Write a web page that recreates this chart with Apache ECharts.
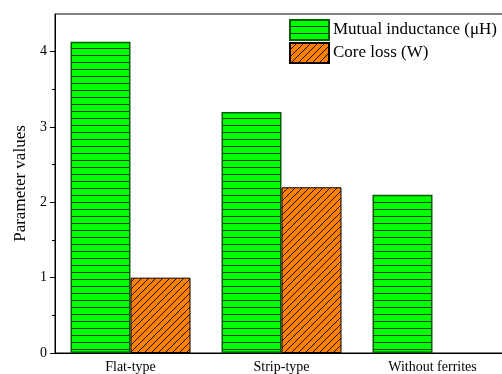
<!DOCTYPE html>
<html>
<head>
<meta charset="utf-8">
<script src="https://cdn.jsdelivr.net/npm/echarts@6/dist/echarts.min.js"></script>
<style>
  html, body { margin: 0; padding: 0; background: #fff; }
  #chart { width: 502px; height: 374px; }
</style>
</head>
<body>
<div id="chart"></div>
<script>
// Categories and values
const categories = ['Flat-type', 'Strip-type', 'Without ferrites'];
const mutualInductance = [4.13, 3.2, 2.1];
const coreLoss = [1.0, 2.2, null];
const yMajorTicks = [0, 1, 2, 3, 4];
const yMinorTicks = [0.5, 1.5, 2.5, 3.5];

// Horizontal-stripe fill for the inductance bars
function stripePattern() {
  const c = document.createElement('canvas');
  c.width = 8; c.height = 7;
  const g = c.getContext('2d');
  g.fillStyle = '#00ff00';
  g.fillRect(0, 0, 8, 7);
  g.fillStyle = '#0b3d0b';
  g.fillRect(0, 6, 8, 1);
  return c;
}

// Diagonal hatch fill for the core-loss bars
function hatchPattern() {
  const s = 7;
  const c = document.createElement('canvas');
  c.width = s; c.height = s;
  const g = c.getContext('2d');
  g.fillStyle = '#ff8000';
  g.fillRect(0, 0, s, s);
  g.strokeStyle = '#1a0d00';
  g.lineWidth = 1;
  g.beginPath();
  g.moveTo(0, s); g.lineTo(s, 0);
  g.moveTo(-1, 1); g.lineTo(1, -1);
  g.moveTo(s - 1, s + 1); g.lineTo(s + 1, s - 1);
  g.stroke();
  return c;
}

const chart = echarts.init(document.getElementById('chart'), null, { renderer: 'canvas' });
const serif = '"Liberation Serif", "Times New Roman", serif';

chart.setOption({
  animation: false,
  backgroundColor: '#fff',
  grid: {
    left: 55, width: 453, top: 14, bottom: 21,
    outerBoundsMode: 'none',
    containLabel: false,
    show: true, borderColor: '#000', borderWidth: 1, backgroundColor: 'transparent'
  },
  legend: {
    orient: 'vertical',
    left: 284, top: 14,
    itemWidth: 39, itemHeight: 20, itemGap: 1,
    icon: 'rect',
    textStyle: { fontFamily: serif, fontSize: 17, color: '#000', padding: [0, 0, 0, -1] },
    data: ['Mutual inductance (μH)', 'Core loss (W)']
  },
  xAxis: {
    type: 'category',
    data: categories,
    axisLine: { lineStyle: { color: '#000', width: 1 } },
    axisTick: { show: false },
    axisLabel: { fontFamily: serif, fontSize: 14, color: '#000', margin: 7 }
  },
  yAxis: [
    {
      type: 'value',
      min: 0, max: 4.5,
      name: 'Parameter values',
      nameLocation: 'middle',
      nameGap: 24,
      nameTextStyle: { fontFamily: serif, fontSize: 17, color: '#000' },
      axisLine: { show: true, lineStyle: { color: '#000', width: 1 } },
      axisTick: { show: true, length: 5, customValues: yMajorTicks, lineStyle: { color: '#000' } },
      splitLine: { show: false },
      axisLabel: {
        fontFamily: serif, fontSize: 14, color: '#000', margin: 8,
        customValues: yMajorTicks
      }
    },
    {
      type: 'value',
      position: 'left',
      min: 0, max: 4.5,
      axisLine: { show: false },
      axisTick: { show: true, length: 3, customValues: yMinorTicks, lineStyle: { color: '#000' } },
      axisLabel: { show: false },
      splitLine: { show: false }
    }
  ],
  series: [
    {
      name: 'Mutual inductance (μH)',
      type: 'bar',
      data: mutualInductance,
      barWidth: 60,
      barGap: '0%',
      itemStyle: {
        color: { image: stripePattern(), repeat: 'repeat' },
        borderColor: '#0a5a0a', borderWidth: 1.5
      }
    },
    {
      name: 'Core loss (W)',
      type: 'bar',
      data: coreLoss,
      barWidth: 60,
      barGap: '0%',
      itemStyle: {
        color: { image: hatchPattern(), repeat: 'repeat' },
        borderColor: '#000', borderWidth: 1
      }
    }
  ]
});
</script>
</body>
</html>
